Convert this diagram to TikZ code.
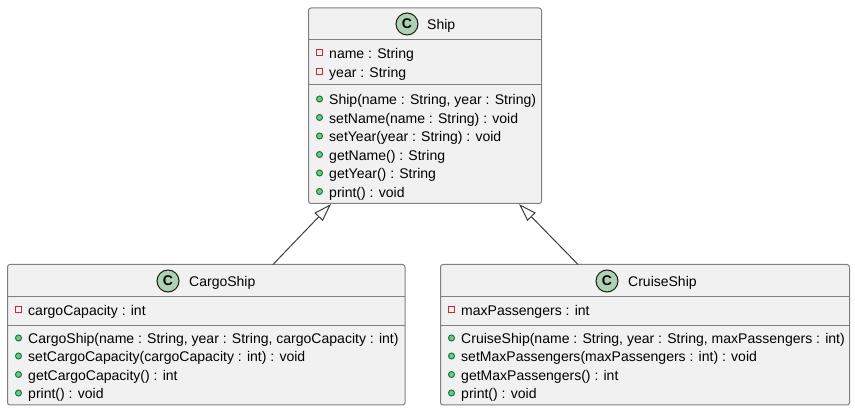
\documentclass[tikz,border=0pt]{standalone}
\usepackage{fontspec}
\setmainfont{Liberation Sans}
\usetikzlibrary{arrows.meta,calc}
\definecolor{boxfill}{HTML}{F1F1F1}
\definecolor{boxline}{HTML}{7F7F7F}
\definecolor{linkline}{HTML}{3D3D3D}
\definecolor{spotfill}{HTML}{ADD1B2}
\definecolor{privred}{HTML}{C82930}
\definecolor{pubfill}{HTML}{84BE84}
\definecolor{publine}{HTML}{038048}
\tikzset{
  x=1pt,y=-1pt,
  classbox/.style={draw=boxline,fill=boxfill,line width=1pt,rounded corners=2.5pt,inner sep=0pt,outer sep=0pt,minimum width=#1,anchor=north west},
  sepline/.style={draw=boxline,line width=1pt},
  spot/.style={circle,draw=black!90,fill=spotfill,line width=1pt,minimum size=22pt,inner sep=0pt,font=\fontsize{14}{14}\selectfont\bfseries},
  title/.style={anchor=base west,inner sep=0pt,yshift=-0.6pt,font=\fontsize{14}{14}\selectfont,text=black},
  member/.style={anchor=base west,inner sep=0pt,yshift=-0.6pt,font=\fontsize{14.03}{14}\selectfont,text=black},
  priv/.style={draw=privred,line width=1pt,fill=none,minimum size=6pt,inner sep=0pt},
  pub/.style={circle,draw=publine,fill=pubfill,line width=1pt,minimum size=6pt,inner sep=0pt},
  inherits/.style={draw=linkline,line width=1pt,-{Triangle[open,length=18pt,width=11.5pt,fill=none]}},
}
\begin{document}
\begin{tikzpicture}
\useasboundingbox (0,0) rectangle (855,411);
% boxes
\node[classbox=233pt,minimum height=195.5pt] (ship) at (308.5,8) {};
\node[classbox=397.5pt,minimum height=140.5pt] (cargo) at (7.5,264.5) {};
\node[classbox=409pt,minimum height=140.5pt] (cruise) at (440.5,264.5) {};
% separators
\draw[sepline] (308.5,39.5) -- (541.5,39.5);
\draw[sepline] (308.5,84.5) -- (541.5,84.5);
\draw[sepline] (7.5,296.5) -- (405,296.5);
\draw[sepline] (7.5,325.5) -- (405,325.5);
\draw[sepline] (440.5,296.5) -- (849.5,296.5);
\draw[sepline] (440.5,325.5) -- (849.5,325.5);
% headers
\node[spot] (shipspot) at (407,24) {C};
\node[title] (shipname) at (427,29) {Ship};
\node[spot] (cargospot) at (168,281) {C};
\node[title] (cargoname) at (189,286) {CargoShip};
\node[spot] (cruisespot) at (607,281) {C};
\node[title] (cruisename) at (628,286) {CruiseShip};
% Ship members
\node[priv] (s1) at (319.5,53) {};
\node[member] (t1) at (329,58) {name : String};
\node[priv] (s2) at (319.5,72) {};
\node[member] (t2) at (329,77) {year : String};
\node[pub] (s3) at (319.5,99) {};
\node[member] (t3) at (329,104) {Ship(name : String, year : String)};
\node[pub] (s4) at (319.5,117.5) {};
\node[member] (t4) at (329,122.5) {setName(name : String) : void};
\node[pub] (s5) at (319.5,136) {};
\node[member] (t5) at (329,141) {setYear(year : String) : void};
\node[pub] (s6) at (319.5,154.5) {};
\node[member] (t6) at (329,159.5) {getName() : String};
\node[pub] (s7) at (319.5,173) {};
\node[member] (t7) at (329,178) {getYear() : String};
\node[pub] (s8) at (319.5,191.5) {};
\node[member] (t8) at (329,196.5) {print() : void};
% CargoShip members
\node[priv] (c1) at (18.5,310) {};
\node[member] (d1) at (28,315) {cargoCapacity : int};
\node[pub] (c2) at (18.5,338) {};
\node[member] (d2) at (28,343) {CargoShip(name : String, year : String, cargoCapacity : int)};
\node[pub] (c3) at (18.5,356) {};
\node[member] (d3) at (28,361) {setCargoCapacity(cargoCapacity : int) : void};
\node[pub] (c4) at (18.5,374.5) {};
\node[member] (d4) at (28,379.5) {getCargoCapacity() : int};
\node[pub] (c5) at (18.5,393) {};
\node[member] (d5) at (28,398) {print() : void};
% CruiseShip members
\node[priv] (r1) at (451.5,310) {};
\node[member] (e1) at (461,315) {maxPassengers : int};
\node[pub] (r2) at (451.5,338) {};
\node[member] (e2) at (461,343) {CruiseShip(name : String, year : String, maxPassengers : int)};
\node[pub] (r3) at (451.5,356) {};
\node[member] (e3) at (461,361) {setMaxPassengers(maxPassengers : int) : void};
\node[pub] (r4) at (451.5,374.5) {};
\node[member] (e4) at (461,379.5) {getMaxPassengers() : int};
\node[pub] (r5) at (451.5,393) {};
\node[member] (e5) at (461,398) {print() : void};
% links
\draw[inherits] ($(cargo.north west)+(265.5,0)$) -- ($(ship.south west)+(22.5,0.5)$);
\draw[inherits] ($(cruise.north west)+(137.5,0)$) -- ($(ship.south west)+(210.5,0.5)$);
\end{tikzpicture}
\end{document}
